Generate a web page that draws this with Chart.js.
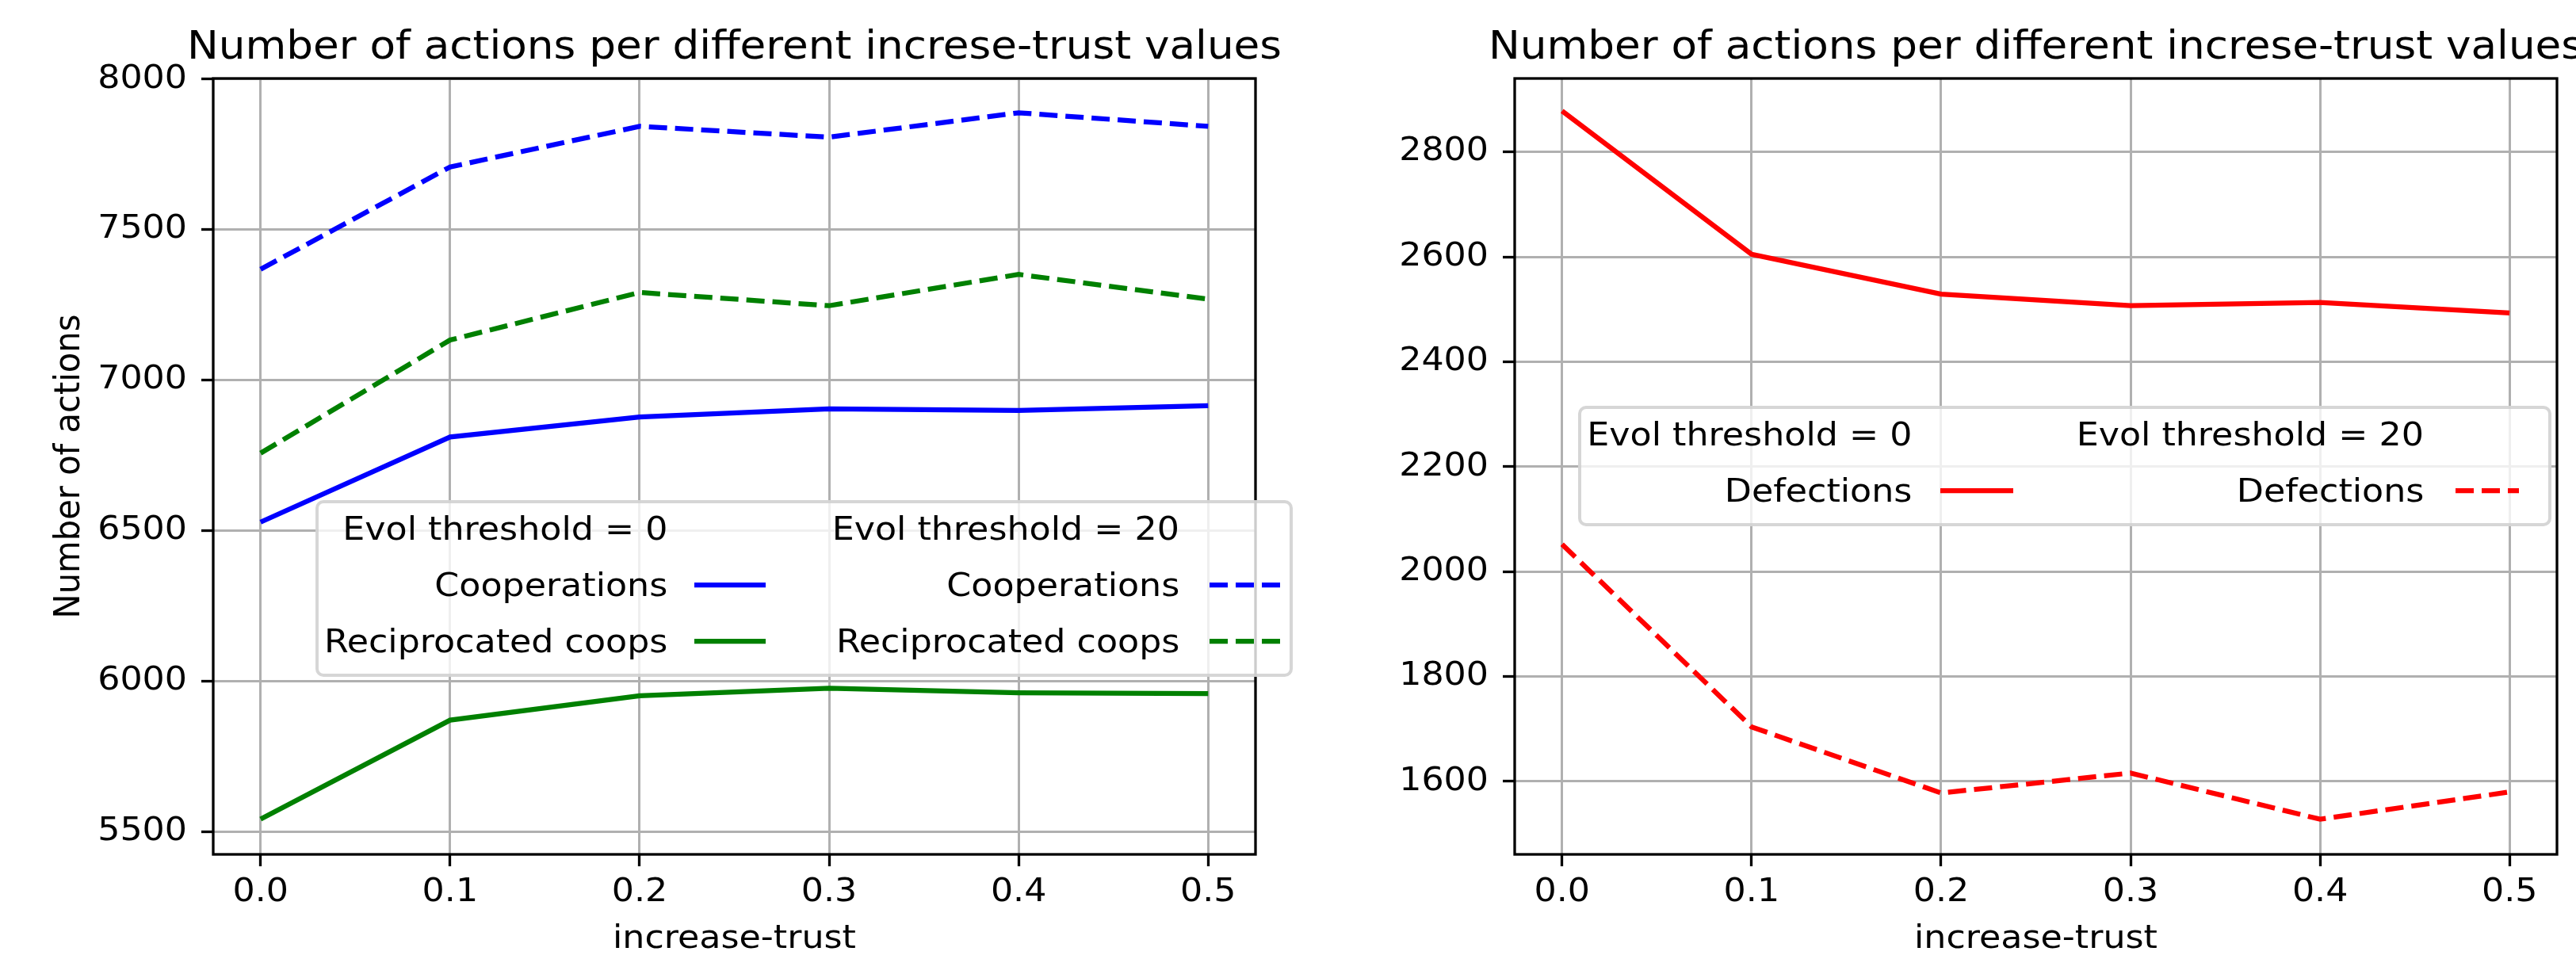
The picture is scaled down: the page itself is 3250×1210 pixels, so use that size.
<!DOCTYPE html>
<html lang="en">
<head>
<meta charset="UTF-8">
<title>Number of actions per different increse-trust values</title>
<script src="https://cdn.jsdelivr.net/npm/chart.js"></script>
<style>
    html, body { margin: 0; padding: 0; background: #fff; overflow: hidden; }
    body { width: 3250px; height: 1210px; position: relative; font-family: 'DejaVu Sans', sans-serif; }
    canvas { position: absolute; top: 0; }
    #leftChart { left: 0; }
    #rightChart { left: 1700px; }
    .legend {
        position: absolute;
        box-sizing: border-box;
        display: grid;
        row-gap: 21px;
        padding: 7px 0 16px 0;
        background: rgba(255, 255, 255, 0.8);
        border: 4px solid rgba(204, 204, 204, 0.8);
        border-radius: 10px;
        font-size: 41.67px;
        color: #000;
    }
    .legend .lbl { text-align: right; white-space: nowrap; height: 50px; line-height: 50px; }
    .legend .lbl span { display: inline-block; transform: scaleX(1.064); transform-origin: 100% 50%; }
    .legend .hdl { display: flex; justify-content: flex-end; align-items: center; height: 50px; }
    #legendLeft { left: 398px; top: 631px; width: 1233px; padding-left: 12px; grid-template-columns: 428px 124px 522px 127px; }
    #legendRight { left: 1991px; top: 512px; width: 1228px; padding-left: 15px; grid-template-columns: 402px 128px 518px 120px; }
</style>
</head>
<body>
    <canvas id="leftChart" width="1852" height="1210"></canvas>
    <canvas id="rightChart" width="1736" height="1210"></canvas>
    <div class="legend" id="legendLeft"></div>
    <div class="legend" id="legendRight"></div>

<script>
// values
const increaseTrust = [0.0, 0.1, 0.2, 0.3, 0.4, 0.5];
const xTicks = [0.0, 0.1, 0.2, 0.3, 0.4, 0.5];

const coopsThr0  = [6528, 6811, 6877, 6904, 6899, 6915];
const recipThr0  = [5541, 5870, 5951, 5976, 5961, 5958];
const coopsThr20 = [7368, 7708, 7843, 7807, 7888, 7843];
const recipThr20 = [6757, 7133, 7291, 7247, 7351, 7269];

const defectThr0  = [2878, 2605, 2529, 2507, 2513, 2493];
const defectThr20 = [2052, 1704, 1578, 1616, 1528, 1580];

const leftYTicks  = [5500, 6000, 6500, 7000, 7500, 8000];
const rightYTicks = [1600, 1800, 2000, 2200, 2400, 2600, 2800];

const legendHeaders = ['Evol threshold = 0', 'Evol threshold = 20'];
const chartTitle = 'Number of actions per different increse-trust values';

Chart.defaults.font.family = "'DejaVu Sans', sans-serif";
Chart.defaults.font.size = 41.67;
Chart.defaults.color = '#000';

function series(label, values, color, dashed, col) {
    return {
        label: label,
        data: increaseTrust.map((x, i) => ({ x: x, y: values[i] })),
        borderColor: color,
        backgroundColor: color,
        borderWidth: 6.25,
        borderDash: dashed ? [23, 10] : [],
        pointRadius: 0,
        tension: 0,
        fill: false,
        legendCol: col
    };
}

// the reference picture was widened a little: its text is ~6% wider
// than plain DejaVu Sans at the same height
const stretchX = 1.064;
const stretchPlugin = {
    id: 'stretch',
    beforeInit(chart) {
        const ctx = chart.ctx;
        const fill = ctx.fillText.bind(ctx);
        ctx.fillText = function (text, x, y, maxWidth) {
            const m = ctx.getTransform();
            ctx.save();
            ctx.translate(x, y);
            if (Math.abs(m.b) > 0.5) ctx.scale(1, stretchX);
            else ctx.scale(stretchX, 1);
            if (maxWidth === undefined) fill(text, 0, 0);
            else fill(text, 0, 0, maxWidth);
            ctx.restore();
        };
    }
};

// black box round the plot area, like the matplotlib spines
const framePlugin = {
    id: 'frame',
    afterDatasetsDraw(chart) {
        const a = chart.chartArea, ctx = chart.ctx;
        ctx.save();
        ctx.strokeStyle = '#000';
        ctx.lineWidth = 3.3;
        ctx.strokeRect(a.left, a.top, a.right - a.left, a.bottom - a.top);
        ctx.restore();
    }
};

function makeChart(id, datasets, yMin, yMax, yTicks, yTitle, yWidth, rightPad) {
    const grid = { color: '#b0b0b0', lineWidth: 3, tickColor: '#000', tickLength: 15, tickWidth: 3.3 };
    return new Chart(document.getElementById(id), {
        type: 'line',
        data: { datasets: datasets },
        plugins: [stretchPlugin, framePlugin],
        options: {
            responsive: false,
            animation: false,
            devicePixelRatio: 1,
            layout: { padding: { left: 0, right: rightPad, top: 0, bottom: 0 } },
            plugins: {
                legend: { display: false },
                tooltip: { enabled: false },
                title: {
                    display: true,
                    fullSize: false,
                    text: chartTitle,
                    color: '#000',
                    font: { size: 50, weight: 'normal', lineHeight: 1.2 },
                    padding: { top: 31, bottom: 8 }
                }
            },
            scales: {
                x: {
                    type: 'linear',
                    min: -0.025,
                    max: 0.525,
                    afterBuildTicks: s => { s.ticks = xTicks.map(v => ({ value: v })); },
                    afterFit: s => { s.height = 132; },
                    ticks: { callback: v => Number(v).toFixed(1), padding: 8, maxRotation: 0, autoSkip: false },
                    grid: grid,
                    border: { display: false },
                    title: { display: true, text: 'increase-trust', font: { lineHeight: 1.2 }, padding: { top: 0, bottom: 0 } }
                },
                y: {
                    type: 'linear',
                    min: yMin,
                    max: yMax,
                    afterBuildTicks: s => { s.ticks = yTicks.map(v => ({ value: v })); },
                    afterFit: s => { s.width = yWidth; },
                    ticks: { callback: v => String(v), padding: 18 },
                    grid: grid,
                    border: { display: false },
                    title: { display: !!yTitle, text: yTitle || '', font: { lineHeight: 1.2 }, padding: { top: 63, bottom: 0 } }
                }
            }
        }
    });
}

const leftChart = makeChart('leftChart', [
    series('Cooperations', coopsThr0, '#0000ff', false, 0),
    series('Reciprocated coops', recipThr0, '#008000', false, 0),
    series('Cooperations', coopsThr20, '#0000ff', true, 1),
    series('Reciprocated coops', recipThr20, '#008000', true, 1)
], 5424, 8002, leftYTicks, 'Number of actions', 269, 268);

const rightChart = makeChart('rightChart', [
    series('Defections', defectThr0, '#ff0000', false, 0),
    series('Defections', defectThr20, '#ff0000', true, 1)
], 1461, 2940, rightYTicks, null, 211, 210);

// two-column legend, labels before the line sample
function buildLegend(boxId, chart, handleWidths) {
    const box = document.getElementById(boxId);
    const cols = legendHeaders.map((h, c) => chart.data.datasets.filter(d => d.legendCol === c));

    function addLabel(text) {
        const d = document.createElement('div');
        d.className = 'lbl';
        const s = document.createElement('span');
        s.textContent = text;
        d.appendChild(s);
        box.appendChild(d);
    }
    function addHandle(ds, w) {
        const d = document.createElement('div');
        d.className = 'hdl';
        if (ds) {
            const ns = 'http://www.w3.org/2000/svg';
            const svg = document.createElementNS(ns, 'svg');
            svg.setAttribute('width', w);
            svg.setAttribute('height', 50);
            const line = document.createElementNS(ns, 'line');
            line.setAttribute('x1', 0);
            line.setAttribute('x2', w);
            line.setAttribute('y1', 25);
            line.setAttribute('y2', 25);
            line.setAttribute('stroke', ds.borderColor);
            line.setAttribute('stroke-width', ds.borderWidth);
            if (ds.borderDash.length) line.setAttribute('stroke-dasharray', ds.borderDash.join(' '));
            svg.appendChild(line);
            d.appendChild(svg);
        }
        box.appendChild(d);
    }

    legendHeaders.forEach((h, c) => { addLabel(h); addHandle(null, handleWidths[c]); });
    for (let r = 0; r < cols[0].length; r++) {
        cols.forEach((list, c) => { addLabel(list[r].label); addHandle(list[r], handleWidths[c]); });
    }
}

buildLegend('legendLeft', leftChart, [90, 89]);
buildLegend('legendRight', rightChart, [92, 80]);
</script>
</body>
</html>
